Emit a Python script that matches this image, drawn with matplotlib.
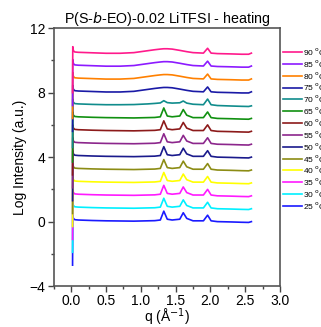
import matplotlib
matplotlib.use("Agg")
import matplotlib.pyplot as plt
from matplotlib.ticker import MultipleLocator

plt.rcParams['font.family'] = ['Liberation Sans', 'DejaVu Sans']

# scattering vector grid (1/A)
q = [0.018, 0.021, 0.03, 0.05, 0.1, 0.3, 0.5, 0.7, 0.9, 1.1, 1.2, 1.28, 1.33, 1.38,
     1.45, 1.56, 1.61, 1.66, 1.75, 1.90, 1.96, 2.01, 2.1, 2.3, 2.45, 2.55, 2.59]

# shapes, relative to each curve's baseline
cryst = [-2.8, 0.3, 0.1, 0.02, 0.0, -0.03, -0.05, -0.06, -0.07, -0.05, -0.04, 0.0, 0.55, 0.05,
         0.0, 0.05, 0.45, 0.1, -0.05, -0.05, 0.3, -0.05, -0.1, -0.12, -0.14, -0.15, -0.1]
partial = [-2.7, 0.3, 0.1, 0.02, 0.0, -0.03, -0.05, -0.05, -0.04, 0.0, 0.03, 0.06, 0.2, 0.08,
           0.05, 0.07, 0.18, 0.05, -0.02, -0.05, 0.3, -0.05, -0.1, -0.13, -0.15, -0.16, -0.12]
melt = [-2.5, 0.35, 0.1, 0.02, 0.0, -0.03, -0.06, -0.06, -0.02, 0.1, 0.16, 0.2, 0.22, 0.22,
        0.2, 0.12, 0.08, 0.04, -0.02, -0.05, 0.25, -0.05, -0.08, -0.1, -0.12, -0.12, -0.05]

temps = ["25", "30", "35", "40", "45", "50", "55", "60", "65", "70", "75", "80", "85", "90"]
offsets = [0.1, 0.9, 1.7, 2.5, 3.3, 4.1, 4.9, 5.7, 6.5, 7.3, 8.1, 8.9, 9.7, 10.5]
shapes = [cryst] * 9 + [partial] + [melt] * 4
colors = ["#1a1aff", "#00f0ff", "#ff1aff", "#ffff00", "#8c8c14", "#1a1a8c", "#8c268c",
          "#8c1a1a", "#109010", "#108c8c", "#1a1aa6", "#ff8000", "#8c1aff", "#ff1a8c"]

fig = plt.figure(figsize=(3.21, 3.27), dpi=100)
ax = fig.add_axes([0.168, 0.125, 0.704, 0.789])

lines = []
for t, off, shp, c in zip(temps, offsets, shapes, colors):
    y = [v + off for v in shp]
    ln, = ax.plot(q, y, color=c, lw=1.2, label=t + r" $^{\rm o}$C")
    lines.append(ln)

ax.set_xlim(-0.25, 3.0)
ax.set_ylim(-4, 12)
ax.xaxis.set_major_locator(MultipleLocator(0.5))
ax.xaxis.set_minor_locator(MultipleLocator(0.25))
ax.yaxis.set_major_locator(MultipleLocator(4))
ax.yaxis.set_minor_locator(MultipleLocator(2))
ax.xaxis.set_major_formatter(plt.FuncFormatter(lambda v, p: "%.1f" % v))
ax.tick_params(which='both', direction='out', top=False, right=False, labelsize=10,
               color='#444444', width=1.0)
ax.tick_params(which='major', length=4, pad=2)
ax.tick_params(which='minor', length=2.5)
for s in ax.spines.values():
    s.set_color('#555555')
    s.set_linewidth(1.2)

ax.set_title("P(S-$\\it{b}$-EO)-0.02 LiTFSI - heating", fontsize=10.3, pad=4)
ax.set_xlabel("q (Å$^{-1}$)", fontsize=10, labelpad=-1)
ax.set_ylabel("Log Intensity (a.u.)", fontsize=10, labelpad=2)

leg = fig.legend(lines[::-1], [l.get_label() for l in lines[::-1]], loc='upper left',
                 bbox_to_anchor=(283 / 321, 1 - 46 / 327), frameon=False, fontsize=6,
                 handlelength=2.3, handletextpad=0.05, labelspacing=0.1, borderpad=0,
                 borderaxespad=0)

plt.savefig("out.png", dpi=100)
